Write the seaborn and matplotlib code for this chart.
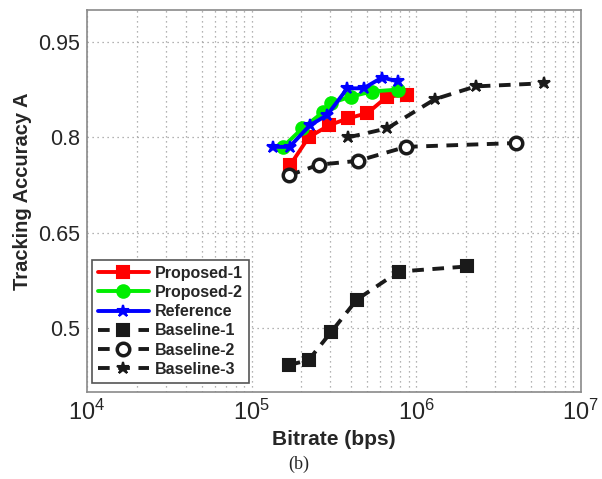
import numpy as np
import pandas as pd
import matplotlib
matplotlib.use("Agg")
import matplotlib.pyplot as plt
import matplotlib.ticker as mticker
import seaborn as sns

# values
p1_rate = [1.72e5, 2.22e5, 2.96e5, 3.87e5, 5.05e5, 6.65e5, 8.8e5]
p1_acc = [0.757, 0.800, 0.819, 0.830, 0.838, 0.864, 0.867]

p2_rate = [1.55e5, 2.03e5, 2.73e5, 3.04e5, 4.02e5, 5.36e5, 7.69e5]
p2_acc = [0.785, 0.814, 0.840, 0.854, 0.864, 0.872, 0.875]

ref_rate = [1.34e5, 1.70e5, 2.26e5, 2.88e5, 3.81e5, 4.78e5, 6.2e5, 7.69e5]
ref_acc = [0.785, 0.785, 0.819, 0.835, 0.877, 0.877, 0.894, 0.888]

b1_rate = [1.68e5, 2.22e5, 3.04e5, 4.36e5, 7.82e5, 2.03e6]
b1_acc = [0.442, 0.450, 0.494, 0.545, 0.589, 0.597]

b2_rate = [1.68e5, 2.56e5, 4.41e5, 8.66e5, 4.04e6]
b2_acc = [0.740, 0.757, 0.763, 0.785, 0.791]

b3_rate = [3.87e5, 6.65e5, 1.30e6, 2.29e6, 5.99e6]
b3_acc = [0.800, 0.814, 0.860, 0.880, 0.885]

sns.set_style("white")
plt.rcParams['font.family'] = ['Liberation Sans', 'DejaVu Sans']
plt.rcParams['mathtext.fontset'] = 'custom'
plt.rcParams['mathtext.rm'] = 'Liberation Sans'
plt.rcParams['mathtext.it'] = 'Liberation Sans:italic'
plt.rcParams['mathtext.bf'] = 'Liberation Sans:bold'

fig, ax = plt.subplots(figsize=(6.02, 4.79), dpi=100)
fig.subplots_adjust(left=0.1445, right=0.965, top=0.979, bottom=0.182)

dash = (0, (3, 2.2))
series = [
    ('Proposed-1', p1_rate, p1_acc, dict(color='#ff0000', ls='-', marker='s', ms=8, mfc='#ff0000', mec='#ff0000')),
    ('Proposed-2', p2_rate, p2_acc, dict(color='#00ee00', ls='-', marker='o', ms=9, mfc='#00ee00', mec='#00ee00')),
    ('Reference', ref_rate, ref_acc, dict(color='#0000ff', ls='-', marker='*', ms=9, mfc='#0000ff', mec='#0000ff')),
    ('Baseline-1', b1_rate, b1_acc, dict(color='#1a1a1a', ls=dash, marker='s', ms=8, mfc='#1a1a1a', mec='#1a1a1a')),
    ('Baseline-2', b2_rate, b2_acc, dict(color='#1a1a1a', ls=dash, marker='o', ms=9, mfc='white', mec='#1a1a1a', mew=2.5)),
    ('Baseline-3', b3_rate, b3_acc, dict(color='#1a1a1a', ls=dash, marker='*', ms=9, mfc='#1a1a1a', mec='#1a1a1a')),
]

for name, xs, ys, st in series:
    df = pd.DataFrame({'rate': xs, 'acc': ys})
    sns.lineplot(data=df, x='rate', y='acc', ax=ax, sort=False, estimator=None,
                 label=name, color=st['color'], linestyle=st['ls'], linewidth=2.8,
                 marker=st['marker'], markersize=st['ms'], markerfacecolor=st['mfc'],
                 markeredgecolor=st['mec'], markeredgewidth=st.get('mew', 1.5))

ax.set_xscale('log')
ax.set_xlim(1e4, 1e7)
ax.set_ylim(0.4, 1.0)
ax.set_yticks([0.5, 0.65, 0.8, 0.95])
ax.set_yticklabels(['0.5', '0.65', '0.8', '0.95'])
ax.xaxis.set_major_locator(mticker.LogLocator(base=10, numticks=10))
ax.xaxis.set_minor_locator(mticker.LogLocator(base=10, subs=np.arange(2, 10), numticks=20))
ax.xaxis.set_major_formatter(mticker.LogFormatterMathtext())

ax.grid(True, which='major', axis='both', color='#9a9a9a', linestyle=(0, (1, 3)), linewidth=0.9)
ax.grid(True, which='minor', axis='x', color='#9a9a9a', linestyle=(0, (1, 3)), linewidth=0.9)

ax.tick_params(axis='y', which='major', labelsize=15.5, direction='in', length=5, color='#777777', pad=5)
ax.tick_params(axis='x', which='major', labelsize=17, direction='in', length=5, color='#777777', pad=6)
ax.tick_params(axis='x', which='minor', direction='in', length=3, color='#777777')
for sp in ax.spines.values():
    sp.set_color('#8a8a8a')
    sp.set_linewidth(1.2)

ax.set_xlabel('Bitrate (bps)', fontsize=15, fontweight='bold', labelpad=3)
ax.set_ylabel('Tracking Accuracy A', fontsize=14.5, fontweight='bold')
ax.yaxis.set_label_coords(-0.112, 0.526)

fig.text(0.497, 0.030, '(b)', ha='center', va='center', fontsize=13, family=['Liberation Serif', 'DejaVu Serif'])

leg = ax.legend(loc='lower left', bbox_to_anchor=(0.01, 0.024), borderaxespad=0,
                frameon=True, fancybox=False, framealpha=1, edgecolor='#555555',
                prop={'weight': 'bold', 'size': 11.5}, handlelength=3.2,
                labelspacing=0.27, borderpad=0.35, handletextpad=0.4)
leg.get_frame().set_linewidth(1.2)

fig.savefig('out.png', dpi=100)
